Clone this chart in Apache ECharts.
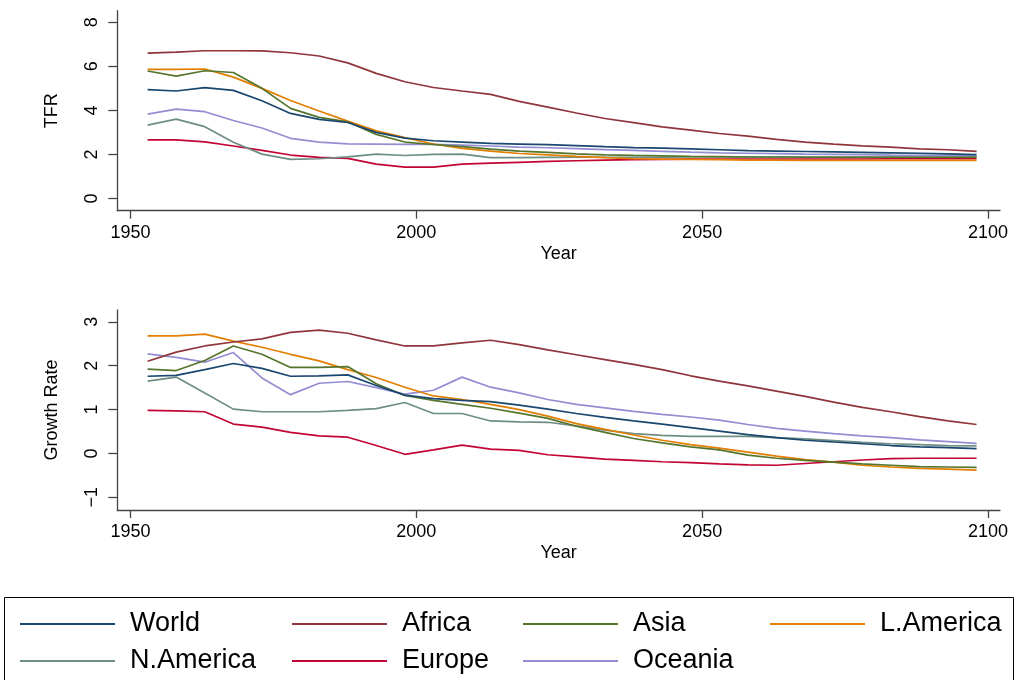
<!DOCTYPE html>
<html>
<head>
<meta charset="utf-8">
<script src="https://cdn.jsdelivr.net/npm/echarts@6/dist/echarts.min.js"></script>
<style>html,body{margin:0;padding:0;background:#fff;}#c{width:1018px;height:680px;}</style>
</head>
<body>
<div id="c"></div>
<script>
const years = [1953,1958,1963,1968,1973,1978,1983,1988,1993,1998,2003,2008,2013,2018,2023,2028,2033,2038,2043,2048,2053,2058,2063,2068,2073,2078,2083,2088,2093,2098];
const regions = ['World','Africa','Asia','L.America','N.America','Europe','Oceania'];
const colors = ['#1a476f','#90353b','#55752f','#e37e00','#6e8e84','#c10534','#938dd2'];
const xTicks = [1950,2000,2050,2100];
const tfrTicks = [0,2,4,6,8];
const grTicks = [-1,0,1,2,3];

const tfrWorld = [4.94,4.88,5.03,4.91,4.44,3.86,3.59,3.45,3.0,2.74,2.62,2.56,2.5,2.47,2.44,2.40,2.35,2.31,2.28,2.25,2.21,2.17,2.15,2.13,2.11,2.09,2.07,2.05,2.02,1.99];
const tfrAfrica = [6.60,6.65,6.71,6.71,6.70,6.62,6.47,6.16,5.68,5.30,5.04,4.88,4.73,4.41,4.15,3.88,3.63,3.44,3.25,3.10,2.95,2.83,2.68,2.56,2.47,2.39,2.33,2.25,2.21,2.14];
const tfrAsia = [5.79,5.56,5.80,5.72,5.0,4.09,3.68,3.48,2.91,2.56,2.45,2.35,2.24,2.15,2.09,2.02,1.98,1.95,1.93,1.91,1.90,1.88,1.88,1.87,1.87,1.87,1.87,1.87,1.87,1.87];
const tfrLAmerica = [5.86,5.86,5.88,5.51,5.0,4.45,3.97,3.51,3.07,2.76,2.47,2.27,2.15,2.04,1.98,1.91,1.85,1.80,1.78,1.77,1.76,1.74,1.74,1.73,1.73,1.73,1.73,1.73,1.73,1.73];
const tfrNAmerica = [3.33,3.60,3.26,2.55,2.01,1.77,1.80,1.89,2.01,1.95,2.0,2.01,1.85,1.85,1.86,1.87,1.87,1.87,1.87,1.88,1.88,1.88,1.88,1.88,1.88,1.88,1.88,1.88,1.88,1.88];
const tfrEurope = [2.66,2.66,2.57,2.38,2.18,1.97,1.86,1.82,1.56,1.42,1.42,1.56,1.60,1.64,1.68,1.71,1.74,1.76,1.77,1.78,1.78,1.79,1.79,1.79,1.79,1.79,1.80,1.80,1.80,1.80];
const tfrOceania = [3.83,4.06,3.94,3.54,3.20,2.73,2.56,2.48,2.47,2.45,2.45,2.42,2.38,2.33,2.30,2.26,2.22,2.18,2.14,2.10,2.07,2.05,2.03,2.01,2.0,1.99,1.97,1.96,1.95,1.93];

const grWorld = [1.76,1.78,1.91,2.05,1.94,1.76,1.77,1.79,1.55,1.33,1.25,1.21,1.18,1.10,1.01,0.91,0.82,0.74,0.67,0.59,0.51,0.43,0.36,0.30,0.26,0.22,0.18,0.15,0.13,0.11];
const grAfrica = [2.10,2.31,2.45,2.54,2.61,2.76,2.81,2.74,2.59,2.45,2.45,2.52,2.58,2.48,2.36,2.25,2.14,2.03,1.91,1.77,1.65,1.54,1.42,1.30,1.17,1.05,0.95,0.84,0.74,0.66];
const grAsia = [1.92,1.89,2.12,2.45,2.26,1.96,1.96,1.98,1.59,1.32,1.21,1.12,1.03,0.92,0.80,0.62,0.48,0.34,0.24,0.15,0.08,-0.04,-0.11,-0.16,-0.20,-0.24,-0.27,-0.30,-0.31,-0.32];
const grLAmerica = [2.68,2.68,2.72,2.56,2.42,2.26,2.11,1.91,1.73,1.51,1.31,1.23,1.12,1.0,0.85,0.68,0.55,0.42,0.30,0.20,0.12,0.03,-0.06,-0.14,-0.20,-0.27,-0.31,-0.34,-0.36,-0.38];
const grNAmerica = [1.65,1.74,1.38,1.01,0.95,0.95,0.95,0.98,1.02,1.16,0.91,0.91,0.74,0.72,0.71,0.63,0.53,0.45,0.41,0.39,0.39,0.39,0.36,0.33,0.29,0.25,0.22,0.20,0.18,0.17];
const grEurope = [0.98,0.97,0.95,0.67,0.60,0.48,0.40,0.37,0.18,-0.02,0.08,0.19,0.10,0.07,-0.03,-0.08,-0.13,-0.16,-0.19,-0.21,-0.24,-0.26,-0.27,-0.23,-0.19,-0.15,-0.12,-0.11,-0.11,-0.11];
const grOceania = [2.27,2.19,2.08,2.30,1.72,1.34,1.60,1.64,1.50,1.35,1.44,1.74,1.51,1.38,1.23,1.12,1.04,0.96,0.89,0.83,0.76,0.66,0.57,0.51,0.45,0.40,0.36,0.31,0.27,0.23];

const tfrData = [tfrWorld,tfrAfrica,tfrAsia,tfrLAmerica,tfrNAmerica,tfrEurope,tfrOceania];
const grData = [grWorld,grAfrica,grAsia,grLAmerica,grNAmerica,grEurope,grOceania];

const FONT = "'Liberation Sans', Arial, Helvetica, sans-serif";
const axisCol = '#444';

function xAxis(gi){
  return {
    type:'value', gridIndex:gi, min:1947.7, max:2102.1,
    name:'Year', nameLocation:'middle', nameGap:34,
    nameTextStyle:{fontFamily:FONT,fontSize:18,color:'#000'},
    axisLine:{show:true,onZero:false,lineStyle:{color:axisCol,width:1.3}},
    axisTick:{show:true,length:8,lineStyle:{color:axisCol,width:1.3},customValues:xTicks},
    axisLabel:{fontFamily:FONT,fontSize:18,color:'#000',margin:13,customValues:xTicks,formatter:(v)=>String(v)},
    splitLine:{show:false}
  };
}
function yAxis(gi,name,min,max,ticks){
  return {
    type:'value', gridIndex:gi, min:min, max:max,
    name:name, nameLocation:'middle', nameGap:56,
    nameTextStyle:{fontFamily:FONT,fontSize:18,color:'#000'},
    axisLine:{show:true,onZero:false,lineStyle:{color:axisCol,width:1.3}},
    axisTick:{show:true,length:9,lineStyle:{color:axisCol,width:1.3},customValues:ticks},
    axisLabel:{fontFamily:FONT,fontSize:18,color:'#000',margin:16,rotate:90,customValues:ticks,formatter:(v)=>(v<0?'\u2212'+Math.abs(v):String(v))},
    splitLine:{show:false}
  };
}

const series = [];
regions.forEach((r,i)=>{
  series.push({name:r,type:'line',xAxisIndex:0,yAxisIndex:0,showSymbol:false,
    data:years.map((y,k)=>[y,tfrData[i][k]]),lineStyle:{color:colors[i],width:1.7},itemStyle:{color:colors[i]},z:10-i});
});
regions.forEach((r,i)=>{
  series.push({name:r,type:'line',xAxisIndex:1,yAxisIndex:1,showSymbol:false,
    data:years.map((y,k)=>[y,grData[i][k]]),lineStyle:{color:colors[i],width:1.7},itemStyle:{color:colors[i]},z:10-i});
});

const colLeft = [20,292,523,770];
const colNames = [['World','N.America'],['Africa','Europe'],['Asia','Oceania'],['L.America']];
const legends = colNames.map((names,ci)=>({
  orient:'vertical', left:colLeft[ci], top:609, height:70, padding:0, data:names,
  icon:'rect', itemWidth:95, itemHeight:2, itemGap:7,
  selectedMode:false,
  textStyle:{fontFamily:FONT,fontSize:27,color:'#000',lineHeight:30,padding:[0,0,0,10]}
}));

const chart = echarts.init(document.getElementById('c'),null,{renderer:'canvas'});
chart.setOption({
  animation:false,
  backgroundColor:'#fff',
  grid:[
    {left:117.3,right:18,top:10.7,height:200},
    {left:117.3,right:18,top:310,height:200}
  ],
  xAxis:[xAxis(0),xAxis(1)],
  yAxis:[yAxis(0,'TFR',-0.56,8.53,tfrTicks),yAxis(1,'Growth Rate',-1.29,3.27,grTicks)],
  legend:legends,
  graphic:[{type:'rect',shape:{x:4.5,y:597.5,width:1009,height:100},style:{fill:'none',stroke:'#000',lineWidth:1}}],
  series:series
});
</script>
</body>
</html>
